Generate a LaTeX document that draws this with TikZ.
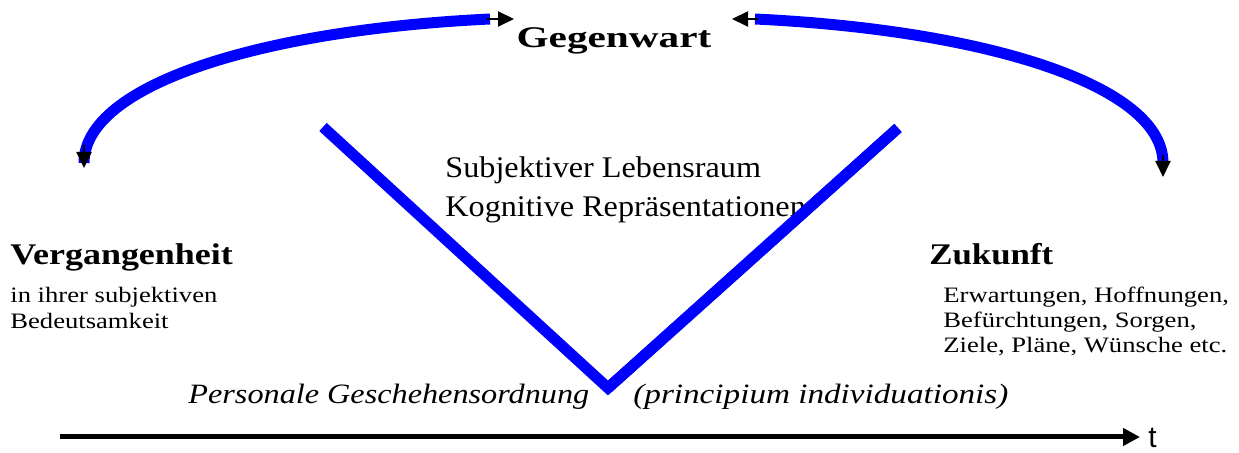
\documentclass[tikz,border=0pt]{standalone}
\usepackage{fontspec}
\usepackage{graphicx}
\setmainfont{Liberation Serif}[FakeStretch=1.1]
\newfontfamily\tfont{Liberation Sans}
\newcommand\hsc[2]{\scalebox{#1}[1]{#2}}
\usetikzlibrary{arrows.meta}
\begin{document}
\begin{tikzpicture}[x=0.5pt,y=-0.5pt,
  bluel/.style={draw={rgb,255:red,0;green,0;blue,255}, line width=5.5pt},
  blk/.style={draw=black, line width=1pt, -{Triangle[length=8pt,width=7.5pt]}},
  txt/.style={inner sep=0pt, anchor=base west},
  bigb/.style={txt, font=\fontsize{15}{17}\selectfont\bfseries},
  mid/.style={txt, font=\fontsize{15}{17}\selectfont},
  small/.style={txt, font=\fontsize{11}{12.5}\selectfont},
  ital/.style={txt, font=\fontsize{14}{16}\selectfont\itshape},
  ]
\useasboundingbox (0,0) rectangle (1239,453);
% coordinates
\coordinate (la) at (490,19);
\coordinate (lb) at (84,163);
\coordinate (ra) at (755,19);
\coordinate (rb) at (1163,163);
\coordinate (vl) at (323,127);
\coordinate (vb) at (608,388);
\coordinate (vr) at (898,128);
% arcs
\draw[bluel] (la) .. controls (260,30) and (84,85) .. (lb);
\draw[bluel] (ra) .. controls (985,30) and (1163,85) .. (rb);
\coordinate (latip) at (514,19);
\coordinate (lbtip) at (84,168);
\coordinate (ratip) at (732,19);
\coordinate (rbtip) at (1163,177);
\draw[blk] (487,19) -- (latip);
\draw[blk] (84,145) -- (lbtip);
\draw[blk] (758,19) -- (ratip);
\draw[blk] (1163,155) -- (rbtip);
% V
\draw[bluel, line join=miter] (vl) -- (vb) -- (vr);
% texts
\node[bigb, anchor=base] (geg) at (614,48) {\hsc{1.25}{Gegenwart}};
\node[mid] (sub) at (445,178) {\hsc{0.976}{Subjektiver Lebensraum}};
\node[mid] (kog) at (445,217) {\hsc{0.976}{Kognitive Repräsentationen}};
\draw[bluel] (vb) -- (vr);
\node[bigb] (ver) at (10,265) {\hsc{1.09}{Vergangenheit}};
\node[small] (v1) at (10,303) {\hsc{1.1}{in ihrer subjektiven}};
\node[small] (v2) at (10,329) {\hsc{1.1}{Bedeutsamkeit}};
\node[bigb] (zuk) at (929,265) {\hsc{1.055}{Zukunft}};
\node[small] (z1) at (943,303) {\hsc{1.1}{Erwartungen, Hoffnungen,}};
\node[small] (z2) at (943,328) {\hsc{1.1}{Befürchtungen, Sorgen,}};
\node[small] (z3) at (943,353) {\hsc{1.1}{Ziele, Pläne, Wünsche etc.}};
\node[ital] (pers) at (188,404) {\hsc{1.047}{Personale Geschehensordnung}};
\node[ital] (prin) at (633,404) {\hsc{1.077}{(principium individuationis)}};
% time axis
\coordinate (t0) at (60,437);
\coordinate (t1) at (1140,437);
\node[txt, font=\tfont\fontsize{15}{17}\selectfont] (t) at (1148,448) {t};
\draw[draw=black, line width=2.5pt, -{Triangle[length=8.5pt,width=8.5pt]}] (t0) -- (t1);
\end{tikzpicture}
\end{document}
